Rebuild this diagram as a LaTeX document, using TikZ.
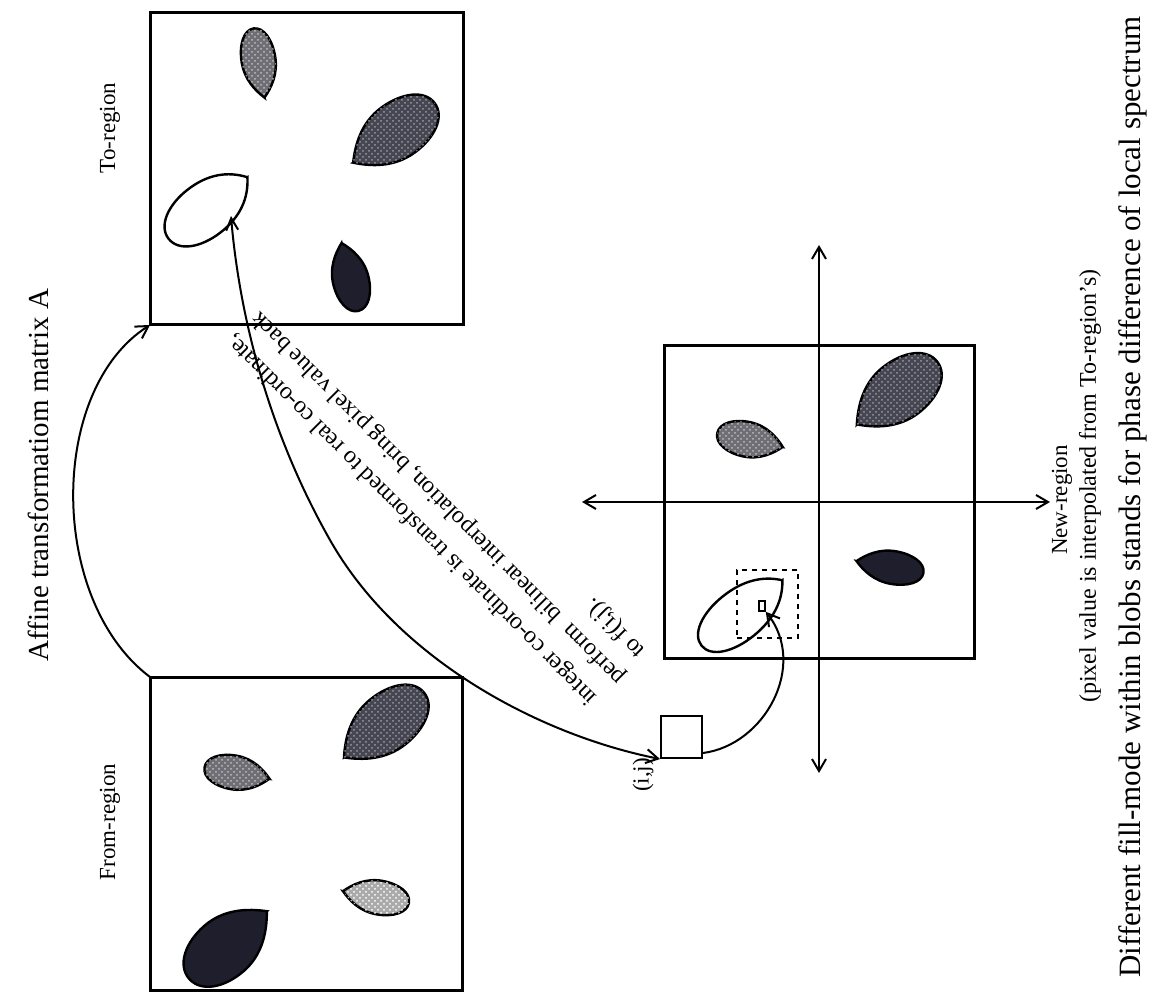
\documentclass[tikz,border=0pt]{standalone}
\usepackage{fontspec}
\setmainfont{Liberation Serif}
\usetikzlibrary{arrows.meta,calc,patterns}
\definecolor{vdark}{RGB}{30,30,44}
\definecolor{ddot}{RGB}{70,70,82}
\definecolor{mdot}{RGB}{110,110,116}
\definecolor{ldot}{RGB}{170,170,170}
% #1,#2 centre; #3 direction of the pointed end; #4 length; #5 width; #6 fill style; #7 tip bluntness
\newcommand{\leafblob}[7]{%
  \begin{scope}[shift={(#1,#2)},rotate=#3]
    \draw[blobline,#6] ({0.5*#4},0)
      .. controls ({0.38*#4},{#7*#5}) and ({0.2*#4},{0.5*#5}) .. ({-0.05*#4},{0.5*#5})
      .. controls ({-0.3*#4},{0.5*#5}) and ({-0.5*#4},{0.3*#5}) .. ({-0.5*#4},0)
      .. controls ({-0.5*#4},{-0.3*#5}) and ({-0.3*#4},{-0.5*#5}) .. ({-0.05*#4},{-0.5*#5})
      .. controls ({0.2*#4},{-0.5*#5}) and ({0.38*#4},{-#7*#5}) .. cycle;
  \end{scope}}
\tikzset{
  region/.style={draw, line width=1.5pt, inner sep=0pt, outer sep=0pt},
  blobline/.style={line width=1.2pt},
  solidblob/.style={fill=vdark},
  darkdots/.style={fill=ddot, postaction={pattern=crosshatch dots, pattern color=white!45!ddot}},
  meddots/.style={fill=mdot, postaction={pattern=crosshatch dots, pattern color=white!55!mdot}},
  lightdots/.style={fill=ldot, postaction={pattern=crosshatch dots, pattern color=white}},
  hollow/.style={fill=white},
  txt/.style={font=\fontsize{12}{14}\selectfont, inner sep=0pt},
  lab/.style={inner sep=0pt, rotate=90},
  small/.style={font=\fontsize{11.5}{13}\selectfont},
  conn/.style={line width=1pt},
}
\begin{document}
\begin{tikzpicture}[x=0.5pt,y=-0.5pt]
\useasboundingbox (0,0) rectangle (1152,1000);
% region boxes
\node[region, minimum width=156.5pt, minimum height=156pt] (to) at (306.5,169) {};
\node[region, minimum width=156pt, minimum height=156.5pt] (from) at (306,833.5) {};
\node[region, minimum width=155pt, minimum height=156pt] (new) at (819,502) {};
% blobs: To-region
\leafblob{259}{63}{-81}{70}{34}{meddots}{0.24}
\leafblob{394}{133}{-144}{101}{56}{darkdots}{0.24}
\leafblob{350}{277}{104}{70}{36}{solidblob}{0.24}
\leafblob{208}{208}{38}{100}{54}{hollow}{0.32}
% blobs: From-region
\leafblob{384}{725}{-141}{103}{57}{darkdots}{0.24}
\leafblob{237}{773}{-10}{66}{34}{meddots}{0.24}
\leafblob{376}{897}{170}{67}{34}{lightdots}{0.24}
\leafblob{228}{945}{41}{103}{60}{solidblob}{0.24}
% blobs: New-region
\leafblob{750}{440}{-12}{67}{35}{meddots}{0.24}
\leafblob{897}{393}{-142}{102}{58}{darkdots}{0.24}
\leafblob{890}{567}{170}{68}{33}{solidblob}{0.24}
\leafblob{742}{613}{39}{104}{50}{hollow}{0.32}
% axes
\coordinate (axtop) at (819,245);
\coordinate (axbot) at (819,773);
\coordinate (axleft) at (582,502);
\coordinate (axright) at (1050,502);
\draw[conn, {Straight Barb[length=6pt,width=7pt,line width=1pt]}-{Straight Barb[length=6pt,width=7pt,line width=1pt]}] (axtop) -- (axbot);
\draw[conn, {Straight Barb[length=6pt,width=7pt,line width=1pt]}-{Straight Barb[length=6pt,width=7pt,line width=1pt]}] (axleft) -- (axright);
% dashed window and pixel
\node[draw, line width=1pt, dash pattern=on 2.5pt off 2.5pt, minimum width=30.5pt, minimum height=34pt, inner sep=0pt] (win) at (767.5,604) {};
\node[draw, line width=0.8pt, fill=white, minimum width=3pt, minimum height=5pt, inner sep=0pt] (pix) at (762,606) {};
% small (i,j) box
\node[draw, line width=1pt, minimum width=20.5pt, minimum height=21pt, inner sep=0pt] (ij) at (681.5,737) {};
\node[lab, small, anchor=south] (ijlab) at ([xshift=-3pt,yshift=-8pt]ij.south west) {(i,j)};
% connectors
\coordinate (ellpt) at (231,216);
\draw[conn, -{Straight Barb[length=6pt,width=7pt,line width=1pt]}] (from.north west) .. controls (48,600) and (48,390) .. (to.south west);
\draw[conn, {Straight Barb[length=6pt,width=6pt,line width=1pt]}-{Straight Barb[length=6pt,width=7pt,line width=1pt]}] (ellpt) .. controls (238,300) and (262,420) .. (330,540) .. controls (398,660) and (540,735) .. (ij.south west);
\draw[conn, -{Straight Barb[length=6pt,width=7pt,line width=1pt]}] ([yshift=3pt]ij.south east) .. controls (765,745) and (808,665) .. (pix.south east);
% curved-arrow texts
\node[txt, rotate=135, anchor=base west] (t1) at (598,697) {integer co-ordinate is transformed to real co-ordinate,};
\node[txt, rotate=135, anchor=base west] (t2) at (626,677) {perform\ \ bilinear interpolation, bring pixel value back};
\node[txt, rotate=135, anchor=base west] (t3) at (646,650) {to f(i,j).};
% labels
\node[lab, small] (tolab) at (110,128) {To-region};
\node[lab, small] (fromlab) at (110,822) {From-region};
\node[lab, font=\fontsize{14.5}{17}\selectfont] (afflab) at (38,475) {Affine transformatiom matrix A};
\node[lab, small] (newlab) at (1062,500) {New-region};
\node[lab, font=\fontsize{12}{14}\selectfont] (pixlab) at (1090,486) {(pixel value is interpolated from To-region's)};
\node[lab, font=\fontsize{15.5}{18}\selectfont] (difflab) at (1133,497) {Different fill-mode within blobs stands for phase difference of local spectrum};
\end{tikzpicture}
\end{document}
